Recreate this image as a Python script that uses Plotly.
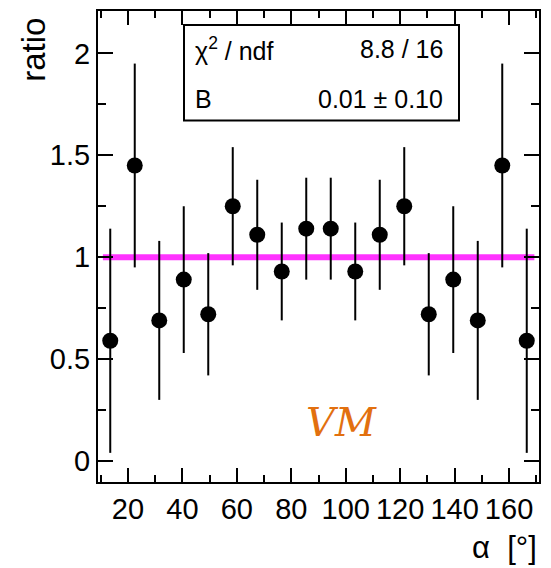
import plotly.graph_objects as go

# ---- data ----
alpha = [13.5, 22.5, 31.5, 40.5, 49.5, 58.5, 67.5, 76.5, 85.5,
         94.5, 103.5, 112.5, 121.5, 130.5, 139.5, 148.5, 157.5, 166.5]
ratio = [0.59, 1.45, 0.69, 0.89, 0.72, 1.25, 1.11, 0.93, 1.14,
         1.14, 0.93, 1.11, 1.25, 0.72, 0.89, 0.69, 1.45, 0.59]
err = [0.55, 0.50, 0.39, 0.36, 0.30, 0.29, 0.27, 0.24, 0.25,
       0.25, 0.24, 0.27, 0.29, 0.30, 0.36, 0.39, 0.50, 0.55]
fit_range = [10.8, 169.3]
fit_value = 1.0
stat_labels = ["χ<sup>2</sup> / ndf", "B"]
stat_values = ["8.8 / 16", "0.01 ± 0.10"]
x_ticks = [20, 40, 60, 80, 100, 120, 140, 160]
y_ticks = [0, 0.5, 1, 1.5, 2]
y_ticklabels = ["0", "0.5", "1", "1.5", "2"]

W, H = 551, 568
L, R, T, B = 98, 539, 9, 482
FONT = "Liberation Sans, Arial, Helvetica, sans-serif"


def xp(px):
    return (px - L) / (R - L)


def yp(py):
    return (B - py) / (B - T)


fig = go.Figure()
fig.add_trace(go.Scatter(
    x=fit_range, y=[fit_value, fit_value], mode="lines",
    line=dict(color="#ff33ff", width=6), showlegend=False, hoverinfo="skip"))
fig.add_trace(go.Scatter(
    x=alpha, y=ratio, mode="markers",
    marker=dict(color="black", size=16),
    error_y=dict(type="data", array=err, visible=True, color="black",
                 thickness=2, width=0),
    showlegend=False))

axis_common = dict(
    showline=True, linecolor="black", linewidth=2, mirror="allticks",
    ticks="inside", tickcolor="black", tickwidth=2,
    showgrid=False, zeroline=False,
    tickfont=dict(family=FONT, size=29, color="black"),
)
fig.update_xaxes(range=[9, 171], tickvals=x_ticks, ticklen=14,
                 minor=dict(ticks="inside", dtick=10, tick0=0, ticklen=7,
                            tickwidth=2, tickcolor="black"),
                 **axis_common)
fig.update_yaxes(range=[-0.103, 2.208], tickvals=y_ticks,
                 ticktext=y_ticklabels, ticklen=15,
                 minor=dict(ticks="inside", dtick=0.25, tick0=0, ticklen=8,
                            tickwidth=2, tickcolor="black"),
                 **axis_common)

# stat box
fig.add_shape(type="rect", xref="paper", yref="paper",
              x0=xp(184), x1=xp(459), y0=yp(119), y1=yp(23),
              line=dict(color="black", width=2), fillcolor="white", layer="above")
rows_y = [47, 97]
for lab, val, ry in zip(stat_labels, stat_values, rows_y):
    fig.add_annotation(text=lab, xref="paper", yref="paper", x=xp(193), y=yp(ry),
                       xanchor="left", yanchor="middle", showarrow=False,
                       font=dict(family=FONT, size=25, color="black"))
    fig.add_annotation(text=val, xref="paper", yref="paper", x=xp(445), y=yp(ry),
                       xanchor="right", yanchor="middle", showarrow=False,
                       font=dict(family=FONT, size=25, color="black"))

# axis titles
fig.add_annotation(text="ratio", xref="paper", yref="paper", x=xp(34), y=yp(48),
                   xanchor="center", yanchor="middle", textangle=-90,
                   showarrow=False, font=dict(family=FONT, size=33, color="black"))
fig.add_annotation(text="α  [°]", xref="paper", yref="paper", x=xp(539), y=yp(548),
                   xanchor="right", yanchor="middle", showarrow=False,
                   font=dict(family=FONT, size=31, color="black"))

# VM label
fig.add_annotation(text="<i>VM</i>", xref="paper", yref="paper", x=xp(341), y=yp(422),
                   xanchor="center", yanchor="middle", showarrow=False,
                   font=dict(family="DejaVu Serif, serif", size=40, color="#e2700f"))

fig.update_layout(width=W, height=H, margin=dict(l=L, r=W - R, t=T, b=H - B),
                  paper_bgcolor="white", plot_bgcolor="white")

fig.write_html("out.html")
